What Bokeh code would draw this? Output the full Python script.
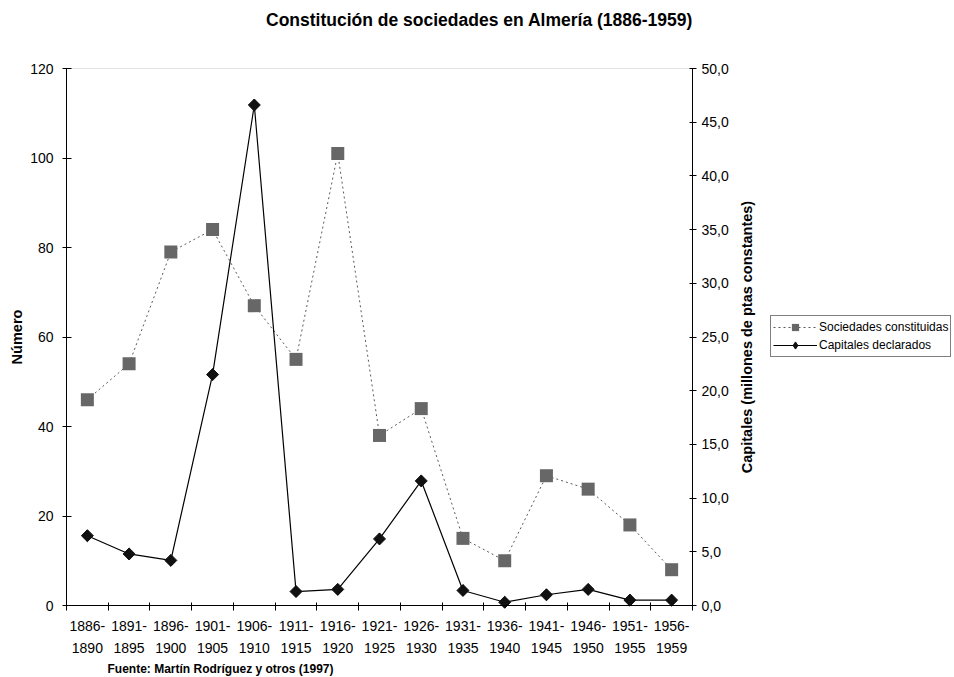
import numpy as np
from bokeh.plotting import figure
from bokeh.models import (Range1d, LinearAxis, FixedTicker, Legend, Label,
                          LegendItem, ColumnDataSource, BoxAnnotation)
from bokeh.embed import file_html
from bokeh.resources import INLINE

# ---------------- data ----------------
periods = ["1886-1890", "1891-1895", "1896-1900", "1901-1905", "1906-1910",
           "1911-1915", "1916-1920", "1921-1925", "1926-1930", "1931-1935",
           "1936-1940", "1941-1945", "1946-1950", "1951-1955", "1956-1959"]
sociedades = [46, 54, 79, 84, 67, 55, 101, 38, 44, 15, 10, 29, 26, 18, 8]
capitales = [6.5, 4.8, 4.2, 21.5, 46.6, 1.3, 1.5, 6.2, 11.6, 1.4, 0.3, 1.0, 1.5, 0.5, 0.5]
left_ticks = [0, 20, 40, 60, 80, 100, 120]
right_ticks = [0, 5, 10, 15, 20, 25, 30, 35, 40, 45, 50]

title_text = "Constitución de sociedades en Almería (1886-1959)"
left_label = "Número"
right_label = "Capitales (millones de ptas constantes)"
source_text = "Fuente: Martín Rodríguez y otros (1997)"
legend_labels = ["Sociedades constituidas", "Capitales declarados"]

FONT = "Liberation Sans"

# ---------------- layout (pixels) ----------------
W, H = 954, 677
FL, FT, FW, FH = 66, 68, 626, 537   # plot area: left, top, width, height

n = len(periods)
xc = [i + 0.5 for i in range(n)]
boundaries = list(range(n + 1))
src = ColumnDataSource(dict(x=xc, soc=sociedades, cap=capitales))

ymax_l = left_ticks[-1]
ymax_r = right_ticks[-1]
xu = n / FW            # data units per pixel
yu_l = ymax_l / FH
yu_r = ymax_r / FH
x_range = Range1d(-FL * xu, n + (W - FL - FW) * xu)
y_range = Range1d(-(H - FT - FH) * yu_l, ymax_l + FT * yu_l)
cap_range = Range1d(-(H - FT - FH) * yu_r, ymax_r + FT * yu_r)

p = figure(width=W, height=H, output_backend="svg", toolbar_location=None,
           x_range=x_range, y_range=y_range,
           x_axis_type=None, y_axis_type=None,
           min_border=0, min_border_left=0, min_border_right=0,
           min_border_top=0, min_border_bottom=0)
p.extra_y_ranges = {"cap": cap_range}
p.outline_line_color = None
p.background_fill_color = "white"
p.border_fill_color = "white"

# plot-area border (only the top edge stays visible; axes cover the others)
p.add_layout(BoxAnnotation(left=0, right=n, bottom=0, top=ymax_l, level="underlay",
                           fill_color=None, fill_alpha=0,
                           line_color="#a6a6a6", line_width=1))

def style_axis(ax):
    ax.axis_line_color = "black"
    ax.major_tick_line_color = "black"
    ax.minor_tick_line_color = None
    ax.major_label_text_font = FONT
    ax.major_label_text_font_size = "14px"
    ax.major_label_text_color = "black"

yl = LinearAxis(ticker=FixedTicker(ticks=left_ticks), fixed_location=0,
                bounds=(0, ymax_l))
style_axis(yl)
yl.major_tick_in = 5
yl.major_tick_out = 4
yl.major_label_standoff = 9
p.add_layout(yl, "left")

yr = LinearAxis(y_range_name="cap", ticker=FixedTicker(ticks=right_ticks),
                fixed_location=n, bounds=(0, ymax_r),
                major_label_overrides={t: f"{t:.1f}".replace(".", ",") for t in right_ticks})
style_axis(yr)
yr.major_tick_in = 3
yr.major_tick_out = 4
yr.major_label_standoff = 5
p.add_layout(yr, "right")

xb = LinearAxis(ticker=FixedTicker(ticks=xc, minor_ticks=boundaries),
                fixed_location=0, bounds=(0, n),
                major_label_overrides={x: lab.replace("-", "-\n") for x, lab in zip(xc, periods)})
style_axis(xb)
xb.major_tick_line_color = None
xb.major_tick_in = 0
xb.major_tick_out = 0
xb.minor_tick_line_color = "black"
xb.minor_tick_in = 3
xb.minor_tick_out = 5
xb.major_label_standoff = 7
xb.major_label_text_line_height = 1.38
p.add_layout(xb, "below")

r1l = p.line("x", "soc", source=src, line_color="#5a5a5a", line_width=1, line_dash="2 3")
r1m = p.scatter("x", "soc", source=src, marker="square", size=13,
                fill_color="#676767", line_color=None)
r2l = p.line("x", "cap", source=src, y_range_name="cap", line_color="black", line_width=1.2)
r2m = p.scatter("x", "cap", source=src, y_range_name="cap", marker="square",
                angle=np.pi / 4, size=8.5, fill_color="#111111", line_color="#111111")
# diamond drawn inside each rotated square; it gives the legend its diamond swatch
r2k = p.scatter("x", "cap", source=src, y_range_name="cap", marker="diamond",
                size=11, fill_color="#111111", line_color="#111111")

leg = Legend(items=[LegendItem(label=legend_labels[0], renderers=[r1l, r1m]),
                    LegendItem(label=legend_labels[1], renderers=[r2l, r2k])],
             location=(770, H - 357))
leg.border_line_color = "black"
leg.border_line_width = 1
leg.background_fill_color = "white"
leg.label_text_font = FONT
leg.label_text_font_size = "12px"
leg.label_text_color = "black"
leg.glyph_width = 44
leg.glyph_height = 18
leg.label_height = 18
leg.label_standoff = 2
leg.spacing = 0
leg.padding = 2
leg.margin = 0
p.add_layout(leg, "center")

def add_text(txt, x, y, size, align="center", angle=0.0):
    p.add_layout(Label(x=x, y=y, x_units="screen", y_units="screen", text=txt,
                       angle=angle, text_font=FONT, text_font_size=size,
                       text_font_style="bold", text_color="black",
                       text_align=align, text_baseline="middle"))

mid_y = H - (FT + FH / 2)
add_text(title_text, 479, H - 19, "17.5px")
add_text(left_label, 16, mid_y, "14.5px", angle=np.pi / 2)
add_text(right_label, 746, mid_y, "14.5px", angle=np.pi / 2)
add_text(source_text, 107, H - 668, "12px", align="left")

open("out.html", "w").write(file_html(p, INLINE))
